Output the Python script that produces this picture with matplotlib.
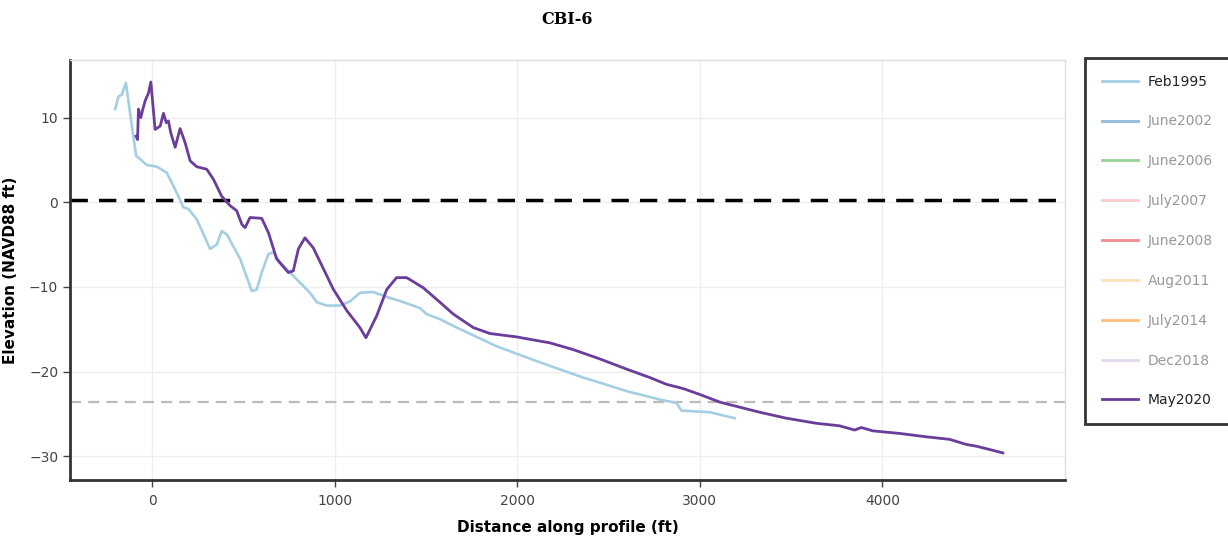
import matplotlib
matplotlib.use("Agg")
import matplotlib.pyplot as plt
from matplotlib.lines import Line2D

# survey profiles
feb1995_x = [-203, -184, -166, -144, -111, -88, -29, 26, 80, 117, 144, 171, 199, 244, 317, 354,
             381, 409, 482, 546, 573, 600, 637, 664, 701, 774, 865, 902, 956, 1029, 1084, 1138,
             1211, 1302, 1357, 1467, 1503, 1576, 1649, 1886, 2124, 2361, 2452, 2598, 2781, 2872,
             2899, 3054, 3191]
feb1995_y = [11.0, 12.5, 12.7, 14.1, 9.0, 5.5, 4.4, 4.2, 3.5, 1.9, 0.7, -0.6, -0.8, -2.0, -5.5, -5.0,
             -3.4, -3.8, -6.7, -10.5, -10.3, -8.3, -6.1, -5.9, -7.1, -8.7, -10.7, -11.8, -12.2, -12.2, -11.7, -10.7,
             -10.6, -11.3, -11.65, -12.5, -13.2, -13.8, -14.6, -17.0, -18.9, -20.7, -21.3, -22.3, -23.3, -23.7,
             -24.6, -24.8, -25.5]

may2020_x = [-88, -80, -75, -62, -51, -38, -20, -7, 16, 44, 62, 77, 89, 102, 126, 153, 181, 208, 244,
             299, 336, 381, 427, 463, 491, 509, 536, 600, 637, 682, 746, 773, 801, 837, 883, 993, 1066,
             1138, 1171, 1230, 1285, 1339, 1394, 1485, 1576, 1649, 1759, 1850, 1996, 2124, 2178, 2306,
             2452, 2598, 2726, 2817, 2908, 3000, 3109, 3200, 3328, 3473, 3637, 3765, 3848, 3884, 3948,
             4094, 4240, 4368, 4459, 4513, 4587, 4660]
may2020_y = [7.8, 7.4, 11.0, 10.0, 11.0, 12.0, 12.9, 14.2, 8.6, 9.0, 10.5, 9.4, 9.6, 8.2, 6.5, 8.7, 7.0, 4.9, 4.2,
             3.9, 2.7, 0.7, -0.4, -1.0, -2.6, -3.0, -1.8, -1.9, -3.6, -6.7, -8.3, -8.1, -5.5, -4.2, -5.4, -10.3, -12.8,
             -14.8, -16.0, -13.4, -10.3, -8.9, -8.9, -10.1, -11.8, -13.2, -14.8, -15.5, -15.9, -16.4, -16.6, -17.4,
             -18.5, -19.7, -20.7, -21.5, -22.0, -22.7, -23.6, -24.1, -24.8, -25.5, -26.1, -26.4, -26.9, -26.6, -27.0,
             -27.3, -27.7, -28.0, -28.6, -28.8, -29.2, -29.6]

legend_labels = ["Feb1995", "June2002", "June2006", "July2007", "June2008",
                 "Aug2011", "July2014", "Dec2018", "May2020"]
legend_colors = ["#a6cee3", "#1f78b4", "#33a02c", "#fb9a99", "#e31a1c",
                 "#fdbf6f", "#ff7f00", "#cab2d6", "#6a3d9a"]
visible = ["Feb1995", "May2020"]

mhw_level = 0.3
doc_level = -23.6

x_ticks = [0, 1000, 2000, 3000, 4000]
y_ticks = [-30, -20, -10, 0, 10]

fig = plt.figure(figsize=(12.28, 5.42), dpi=100)
ax = fig.add_axes([70/1228, 1 - 480/542, 995/1228, 420/542])

ax.plot(feb1995_x, feb1995_y, color=legend_colors[0], lw=1.9, zorder=3)
ax.plot(may2020_x, may2020_y, color=legend_colors[-1], lw=2.0, zorder=4)

ax.axhline(mhw_level, color="black", lw=2.5, dashes=(5, 3.2), zorder=2)
ax.axhline(doc_level, color="#bbbbbb", lw=1.6, dashes=(5, 3.2), zorder=2)

ax.set_xlim(-450, 5000)
ax.set_ylim(-32.8, 16.8)
ax.set_xticks(x_ticks)
ax.set_yticks(y_ticks)
ax.grid(True, color="#eeeeee", lw=1, zorder=0)
ax.tick_params(colors="#444444", labelsize=10, length=5, width=1)
ax.tick_params(axis="x", pad=5)

for side in ["left", "bottom"]:
    ax.spines[side].set_color("#333333")
    ax.spines[side].set_linewidth(2)
for side in ["top", "right"]:
    ax.spines[side].set_color("#dddddd")
    ax.spines[side].set_linewidth(1)

ax.set_xlabel("Distance along profile (ft)", fontsize=11, fontweight="bold", labelpad=9)
ax.set_ylabel("Elevation (NAVD88 ft)", fontsize=11, fontweight="bold")
ax.yaxis.set_label_coords(-52/995, 0.5)
fig.text(567/1228, 1 - 20/542, "CBI-6", ha="center", va="center",
         fontsize=11.5, fontweight="bold", family="DejaVu Serif")

handles = []
for lab, col in zip(legend_labels, legend_colors):
    a = 1.0 if lab in visible else 0.5
    handles.append(Line2D([0], [0], color=col, lw=2, alpha=a))
leg = fig.legend(handles, legend_labels, loc="upper left",
                 bbox_to_anchor=(1085/1228, 1 - 58/542), borderaxespad=0, fontsize=10,
                 handlelength=2.6, handletextpad=0.7, labelspacing=1.86,
                 borderpad=1.2, fancybox=False, frameon=True)
leg.get_frame().set_edgecolor("black")
leg.get_frame().set_linewidth(2)
for t in leg.get_texts():
    t.set_color("#222222" if t.get_text() in visible else "#999999")

fig.savefig("out.png", dpi=100)
